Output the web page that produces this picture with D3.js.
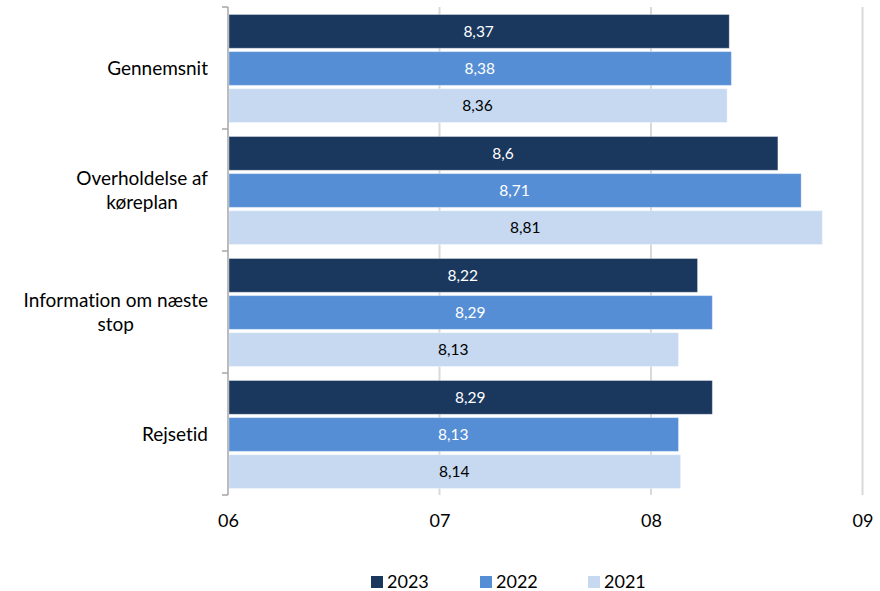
<!DOCTYPE html>
<html>
<head>
<meta charset="utf-8">
<script src="https://cdn.jsdelivr.net/npm/d3@7"></script>
<style>
body{margin:0;background:#fff;}
text{font-family:Lato,"Open Sans",sans-serif;font-variant-ligatures:none;}
</style>
</head>
<body>
<div id="root"></div>
<script>
// data
var categories=['Gennemsnit','Overholdelse af køreplan','Information om næste stop','Rejsetid'];
var labelLines=[['Gennemsnit'],['Overholdelse af','køreplan'],['Information om næste','stop'],['Rejsetid']];
var years=['2023','2022','2021'];
var v2023=[8.37,8.6,8.22,8.29];
var v2022=[8.38,8.71,8.29,8.13];
var v2021=[8.36,8.81,8.13,8.14];
var xTicks=[6,7,8,9];
var tickLabels=['06','07','08','09'];

var colors={'2023':'#1A375E','2022':'#558ED5','2021':'#C6D9F0'};
var textColors={'2023':'#fff','2022':'#fff','2021':'#000'};

var W=880,H=591;
var b={t:7,r:18,b:96,l:228};
var ph=488;

var svg=d3.select('#root').append('svg').attr('width',W).attr('height',H);
var g=svg.append('g').attr('transform','translate('+b.l+','+b.t+')');

var rows=categories.map(function(c,i){
  return {cat:c,values:[{year:'2023',v:v2023[i]},{year:'2022',v:v2022[i]},{year:'2021',v:v2021[i]}]};
});

var x=d3.scaleLinear().domain([6,9]).range([0,634.5]);
var y0=d3.scaleBand().domain(categories).range([0,ph]);
var y1=d3.scaleBand().domain(years).range([7.5,115.5]).paddingInner(0.09);

// gridlines
g.selectAll('.grid').data(xTicks.slice(1)).enter().append('line')
  .attr('x1',function(d){return x(d)}).attr('x2',function(d){return x(d)})
  .attr('y1',0).attr('y2',ph)
  .attr('stroke','#d9d9d9').attr('stroke-width',2);

var grp=g.selectAll('.cat').data(rows).enter().append('g')
  .attr('transform',function(d){return 'translate(0,'+y0(d.cat)+')'});

grp.selectAll('rect').data(function(d){return d.values}).enter().append('rect')
  .attr('x',x(6)+1)
  .attr('y',function(d){return y1(d.year)})
  .attr('width',function(d){return x(d.v)-x(6)-1})
  .attr('height',y1.bandwidth())
  .attr('fill',function(d){return colors[d.year]})
  .attr('stroke','rgba(255,255,255,0.35)').attr('stroke-width',1);

grp.selectAll('.val').data(function(d){return d.values}).enter().append('text')
  .attr('x',function(d){return (x(6)+x(d.v))/2})
  .attr('y',function(d){return y1(d.year)+y1.bandwidth()/2})
  .attr('dy','0.35em').attr('text-anchor','middle')
  .attr('font-size',15.5)
  .attr('fill',function(d){return textColors[d.year]})
  .text(function(d){return String(d.v).replace('.',',')});

// y axis
g.append('line').attr('x1',0).attr('x2',0).attr('y1',0).attr('y2',ph)
  .attr('stroke','#a6a6a6').attr('stroke-width',1.5);
g.selectAll('.ytick').data(d3.range(categories.length+1)).enter().append('line')
  .attr('x1',-6).attr('x2',0)
  .attr('y1',function(d){return d*y0.step()}).attr('y2',function(d){return d*y0.step()})
  .attr('stroke','#a6a6a6').attr('stroke-width',1.5);

var lab=g.selectAll('.ylab').data(rows).enter().append('text')
  .attr('font-size',19).attr('fill','#000').attr('text-anchor','middle');
lab.each(function(d,i){
  var t=d3.select(this);
  var lines=labelLines[i];
  var tmp=svg.append('text').attr('font-size',19).text(lines[0]);
  var wid=0;
  lines.forEach(function(l){tmp.text(l);wid=Math.max(wid,tmp.node().getComputedTextLength())});
  tmp.remove();
  var cx=-20-wid/2;
  var cy=y0(d.cat)+y0.bandwidth()/2-(lines.length-1)*12;
  lines.forEach(function(l,j){
    t.append('tspan').attr('x',cx).attr('y',cy+j*24).attr('dy','0.35em').text(l);
  });
});

// x axis labels
var xAxis=d3.axisBottom(x).tickValues(xTicks).tickSize(0).tickFormat(function(d,i){return tickLabels[i]});
var xg=g.append('g').attr('transform','translate(0,'+ph+')').call(xAxis);
xg.select('.domain').remove();
xg.selectAll('text').attr('font-size',18).attr('fill','#000').attr('dy',0).attr('y',32)
  .style('font-family','Lato,"Open Sans",sans-serif');

// legend
var legX=[371,480,588];
var leg=svg.selectAll('.leg').data(years).enter().append('g')
  .attr('transform',function(d,i){return 'translate('+legX[i]+',576)'});
leg.append('rect').attr('width',12).attr('height',12).attr('fill',function(d){return colors[d]});
leg.append('text').attr('x',16).attr('y',6).attr('dy','0.35em').attr('font-size',18).attr('fill','#000').text(function(d){return d});
</script>
</body>
</html>
